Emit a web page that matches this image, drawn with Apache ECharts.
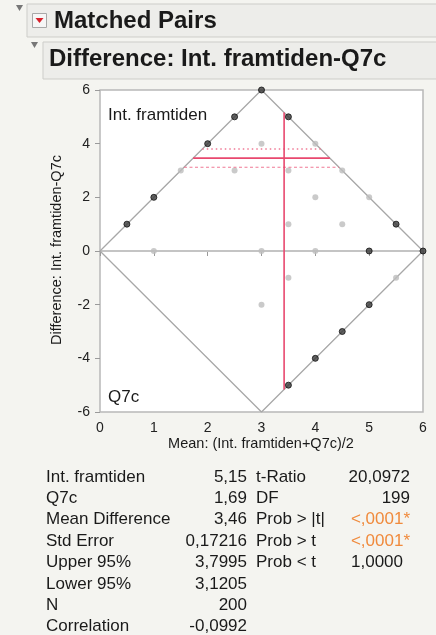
<!DOCTYPE html>
<html>
<head>
<meta charset="utf-8">
<script src="https://cdn.jsdelivr.net/npm/echarts@6/dist/echarts.min.js"></script>
<style>
html,body{margin:0;padding:0;background:#f4f4f0;}
#chart{width:436px;height:635px;}
</style>
</head>
<body>
<div id="chart"></div>
<script>
// ---- data ----
const scaleMax = 6;
const xTicks = [0, 1, 2, 3, 4, 5, 6];
const yTicks = [-6, -4, -2, 0, 2, 4, 6];
const darkPoints = [[0.5,1],[1,2],[2,4],[2.5,5],[3,6],[3.5,5],[5.5,1],[5,0],[6,0],[5,-2],[4.5,-3],[4,-4],[3.5,-5]];
const grayPoints = [[1,0],[1.5,3],[2.5,3],[3,4],[4,4],[3.5,3],[4.5,3],[4,2],[5,2],[3.5,1],[4.5,1],[3,0],[4,0],[3.5,-1],[5.5,-1],[3,-2]];
const meanA = 5.15;      // Int. framtiden
const meanB = 1.69;      // Q7c
const meanDiff = 3.46;
const upper95 = 3.7995;
const lower95 = 3.1205;
const statLabels = ['Int. framtiden','Q7c','Mean Difference','Std Error','Upper 95%','Lower 95%','N','Correlation'];
const statValues = ['5,15','1,69','3,46','0,17216','3,7995','3,1205','200','-0,0992'];
const testLabels = ['t-Ratio','DF','Prob > |t|','Prob > t','Prob < t'];
const testValues = ['20,0972','199','<,0001*','<,0001*','1,0000'];

// ---- derived geometry ----
const meanX = (meanA + meanB) / 2;
const diamond = [[0,0],[scaleMax/2,scaleMax],[scaleMax,0],[scaleMax/2,-scaleMax],[0,0]];
const zeroLine = [[0,0],[scaleMax,0]];
const hSeg = d => [[d/2,d],[scaleMax-d/2,d]];
const vBound = 2*(scaleMax-meanX);
const vLine = [[meanX,-vBound],[meanX,vBound]];

const FONT = '"Liberation Sans", Arial, Helvetica, sans-serif';
const chart = echarts.init(document.getElementById('chart'), null, {renderer:'canvas'});

const rowY0 = 477, rowH = 21.4;
const tableGraphics = [];
statLabels.forEach((t,i)=>{
  tableGraphics.push({type:'text', z:5, x:46, y:rowY0+i*rowH, style:{text:t, font:'17px '+FONT, fill:'#1a1a1a', textAlign:'left', textVerticalAlign:'middle'}});
});
statValues.forEach((t,i)=>{
  tableGraphics.push({type:'text', z:5, x:247, y:rowY0+i*rowH, style:{text:t, font:'17px '+FONT, fill:'#1a1a1a', textAlign:'right', textVerticalAlign:'middle'}});
});
testLabels.forEach((t,i)=>{
  tableGraphics.push({type:'text', z:5, x:256, y:rowY0+i*rowH, style:{text:t, font:'17px '+FONT, fill:'#1a1a1a', textAlign:'left', textVerticalAlign:'middle'}});
});
testValues.forEach((t,i)=>{
  const orange = t.indexOf('<')===0;
  const rx = (i===4) ? 403 : 410;
  tableGraphics.push({type:'text', z:5, x:rx, y:rowY0+i*rowH, style:{text:t, font:'17px '+FONT, fill: orange ? '#f08a3c' : '#1a1a1a', textAlign:'right', textVerticalAlign:'middle'}});
});

const option = {
  animation:false,
  backgroundColor:'#f4f4f0',
  grid:{left:100, top:90, width:323, height:322, show:true, backgroundColor:'#ffffff', borderColor:'#b8b8b8', borderWidth:1.5},
  xAxis:{type:'value', min:0, max:scaleMax, interval:1,
    axisLine:{show:false}, splitLine:{show:false},
    axisTick:{show:true, length:5, lineStyle:{color:'#9a9a9a'}},
    axisLabel:{margin:9, fontSize:14, color:'#222', fontFamily:FONT}},
  yAxis:{type:'value', min:-scaleMax, max:scaleMax, interval:2,
    axisLine:{show:false}, splitLine:{show:false},
    axisTick:{show:true, length:5, lineStyle:{color:'#9a9a9a'}},
    axisLabel:{margin:10, fontSize:14, color:'#222', fontFamily:FONT}},
  series:[
    {type:'line', data:zeroLine, symbol:'none', silent:true, lineStyle:{color:'#c4c4c4', width:2.2}, z:1},
    {type:'line', data:diamond, symbol:'none', silent:true, lineStyle:{color:'#a8a8a8', width:1.3}, z:2},
    {type:'scatter', data:grayPoints, symbolSize:6, itemStyle:{color:'#bdbdbd'}, z:3, clip:false},
    {type:'scatter', data:darkPoints, symbolSize:6, itemStyle:{color:'#3a3a3a', borderColor:'#111', borderWidth:1}, z:4, clip:false},
    {type:'line', data:hSeg(upper95), symbol:'none', silent:true, lineStyle:{color:'#f07a95', width:1.4, type:[1.5,3]}, z:5},
    {type:'line', data:hSeg(lower95), symbol:'none', silent:true, lineStyle:{color:'#f07a95', width:1.2, type:[3,2.5]}, z:5},
    {type:'line', data:hSeg(meanDiff), symbol:'none', silent:true, lineStyle:{color:'#e8486e', width:1.6}, z:6},
    {type:'line', data:vLine, symbol:'none', silent:true, lineStyle:{color:'#e8486e', width:1.6}, z:6}
  ],
  graphic:[
    // header 1
    {type:'rect', z:1, shape:{x:27, y:4, width:420, height:33}, style:{fill:'#ededea', stroke:'#cdcdc9', lineWidth:1}},
    {type:'polygon', z:5, shape:{points:[[16,5],[23,5],[19.5,11]]}, style:{fill:'#777'}},
    {type:'rect', z:5, shape:{x:32.5, y:13.5, width:14, height:14}, style:{fill:'#f6f6f6', stroke:'#a8a8a8', lineWidth:1}},
    {type:'polygon', z:6, shape:{points:[[35.5,18],[43.5,18],[39.5,23]]}, style:{fill:'#d8202a'}},
    {type:'text', z:6, x:54, y:21, style:{text:'Matched Pairs', font:'bold 24px '+FONT, fill:'#1a1a1a', textAlign:'left', textVerticalAlign:'middle'}},
    // header 2
    {type:'rect', z:1, shape:{x:43, y:42, width:410, height:37}, style:{fill:'#ededea', stroke:'#cdcdc9', lineWidth:1}},
    {type:'polygon', z:5, shape:{points:[[31,42],[38,42],[34.5,48]]}, style:{fill:'#777'}},
    {type:'text', z:6, x:49, y:59, style:{text:'Difference: Int. framtiden-Q7c', font:'bold 24px '+FONT, fill:'#1a1a1a', textAlign:'left', textVerticalAlign:'middle'}},
    // in-plot labels
    {type:'text', z:10, x:108, y:115, style:{text:'Int. framtiden', font:'17px '+FONT, fill:'#1a1a1a', textAlign:'left', textVerticalAlign:'middle'}},
    {type:'text', z:10, x:108, y:397, style:{text:'Q7c', font:'17px '+FONT, fill:'#1a1a1a', textAlign:'left', textVerticalAlign:'middle'}},
    // axis titles
    {type:'text', z:5, x:261, y:444, style:{text:'Mean: (Int. framtiden+Q7c)/2', font:'14.5px '+FONT, fill:'#1a1a1a', textAlign:'center', textVerticalAlign:'middle'}},
    {type:'text', z:5, x:57, y:250, rotation:Math.PI/2, style:{text:'Difference: Int. framtiden-Q7c', font:'14.5px '+FONT, fill:'#1a1a1a', textAlign:'center', textVerticalAlign:'middle'}}
  ].concat(tableGraphics)
};
chart.setOption(option);
</script>
</body>
</html>
